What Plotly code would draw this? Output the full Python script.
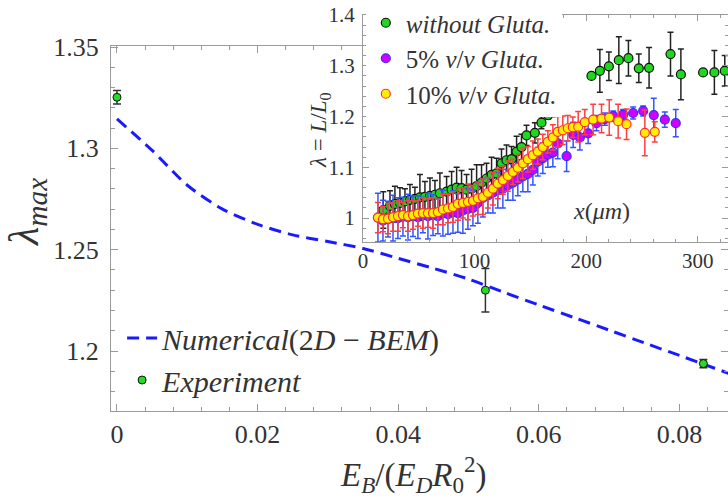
import plotly.graph_objects as go

# ---------------- main chart data ----------------
eb_num = [0.0, 0.005, 0.010, 0.015, 0.020, 0.025, 0.030, 0.035, 0.040, 0.045,
          0.050, 0.055, 0.060, 0.065, 0.070, 0.075, 0.080, 0.085, 0.087]
lam_num = [1.3145, 1.2990, 1.2818, 1.2700, 1.2625, 1.2573, 1.2540, 1.2506, 1.2457, 1.2408,
           1.2355, 1.2290, 1.2227, 1.2165, 1.2103, 1.2040, 1.1978, 1.1915, 1.1890]

eb_exp = [0.0, 0.0524, 0.0834]
lam_exp = [1.3252, 1.2300, 1.1938]
lam_exp_err = [0.0033, 0.0107, 0.002]

# ---------------- inset data ----------------
x_without = [18.2, 24.2, 28.6, 33.1, 37.6, 42.1, 46.5, 51.0, 55.5, 60.0,
             64.5, 68.9, 74.9, 79.4, 83.9, 88.3, 92.8, 97.3, 101.8, 106.2,
             110.7, 115.2, 119.7, 124.1, 128.6, 133.1, 137.6, 142.0, 146.5, 154.0,
             159.9, 165.9, 171.3, 204.7, 212.2, 220.3, 229.2, 237.8, 247.1, 256.3,
             275.5, 284.8, 304.7, 314.8, 324.1]
y_without = [1.016, 1.024, 1.028, 1.030, 1.033, 1.036, 1.038, 1.041, 1.042, 1.044,
             1.046, 1.049, 1.052, 1.056, 1.060, 1.059, 1.056, 1.058, 1.063, 1.070,
             1.078, 1.085, 1.088, 1.108, 1.114, 1.116, 1.131, 1.140, 1.163, 1.168,
             1.188, 1.203, 1.208, 1.280, 1.290, 1.299, 1.311, 1.315, 1.295, 1.296,
             1.323, 1.283, 1.287, 1.287, 1.290]
e_without = [0.036, 0.030, 0.035, 0.030, 0.025, 0.030, 0.023, 0.045, 0.030, 0.035,
             0.028, 0.040, 0.030, 0.036, 0.040, 0.035, 0.030, 0.038, 0.042, 0.035,
             0.030, 0.035, 0.030, 0.028, 0.030, 0.025, 0.030, 0.025, 0.020, 0.020,
             0.012, 0.008, 0.006, 0.004, 0.042, 0.028, 0.046, 0.035, 0.028, 0.040,
             0.043, 0.050, 0.004, 0.043, 0.030]

x_5 = [13.4, 17.9, 22.4, 26.9, 31.3, 35.8, 40.3, 44.8, 49.2, 53.7,
       58.2, 62.7, 67.1, 71.6, 76.1, 80.6, 85.0, 89.5, 94.0, 98.5,
       102.9, 107.4, 111.9, 116.4, 120.8, 125.3, 129.8, 134.3, 138.7, 143.2,
       147.7, 152.2, 156.6, 161.1, 165.6, 170.1, 174.5, 182.4, 188.3, 194.3,
       201.7, 209.2, 216.7, 224.2, 233.1, 242.0, 251.0, 260.5, 270.4, 280.2]
y_5 = [1.001, 0.995, 0.998, 1.000, 1.000, 1.003, 1.002, 1.004, 1.002, 1.006,
       1.004, 1.006, 1.004, 1.010, 1.008, 1.012, 1.010, 1.015, 1.018, 1.020,
       1.030, 1.040, 1.045, 1.050, 1.055, 1.058, 1.065, 1.070, 1.076, 1.082,
       1.087, 1.095, 1.111, 1.118, 1.125, 1.129, 1.147, 1.122, 1.164, 1.159,
       1.167, 1.187, 1.195, 1.201, 1.204, 1.207, 1.211, 1.203, 1.194, 1.187]
e_5 = [0.048, 0.040, 0.035, 0.045, 0.040, 0.038, 0.045, 0.040, 0.042, 0.035,
       0.045, 0.040, 0.035, 0.045, 0.040, 0.042, 0.038, 0.045, 0.040, 0.035,
       0.040, 0.038, 0.035, 0.040, 0.035, 0.038, 0.030, 0.035, 0.032, 0.030,
       0.035, 0.030, 0.028, 0.030, 0.025, 0.028, 0.030, 0.030, 0.025, 0.025,
       0.020, 0.015, 0.012, 0.010, 0.010, 0.012, 0.010, 0.033, 0.015, 0.027]

x_10 = [13.4, 17.9, 22.4, 26.9, 31.3, 35.8, 40.3, 44.8, 49.2, 53.7,
        58.2, 62.7, 67.1, 71.6, 76.1, 80.6, 85.0, 89.5, 94.0, 98.5,
        102.9, 107.4, 111.9, 116.4, 120.8, 125.3, 129.8, 134.3, 138.7, 143.2,
        147.7, 152.2, 156.6, 161.1, 165.6, 170.1, 174.5, 179.0, 183.5, 188.0,
        192.8, 198.7, 206.2, 213.7, 220.6, 228.6, 236.1, 252.5, 261.4]
y_10 = [1.001, 0.998, 0.999, 1.002, 1.004, 1.006, 1.004, 1.006, 1.009, 1.010,
        1.010, 1.010, 1.012, 1.017, 1.019, 1.022, 1.028, 1.030, 1.032, 1.034,
        1.039, 1.042, 1.050, 1.058, 1.068, 1.075, 1.083, 1.091, 1.099, 1.108,
        1.116, 1.124, 1.131, 1.140, 1.150, 1.159, 1.170, 1.173, 1.177, 1.179,
        1.180, 1.189, 1.194, 1.196, 1.198, 1.191, 1.185, 1.168, 1.170]
e_10 = [0.030, 0.025, 0.030, 0.028, 0.030, 0.025, 0.030, 0.028, 0.025, 0.030,
        0.028, 0.030, 0.025, 0.030, 0.028, 0.030, 0.032, 0.030, 0.035, 0.030,
        0.032, 0.035, 0.030, 0.032, 0.030, 0.028, 0.030, 0.025, 0.028, 0.030,
        0.025, 0.028, 0.025, 0.025, 0.022, 0.025, 0.030, 0.028, 0.025, 0.020,
        0.030, 0.025, 0.030, 0.028, 0.035, 0.033, 0.030, 0.045, 0.020]

SERIF = "Liberation Serif"
AX = "#9a9a9a"
TXT = "#333333"

fig = go.Figure()

fig.add_trace(go.Scatter(
    x=eb_num, y=lam_num, mode="lines",
    name="<i>Numerical</i>(2<i>D</i> − <i>BEM</i>)",
    line=dict(color="#1a1aff", width=3, dash="12px,7px", shape="spline", smoothing=0.8),
    legend="legend"))
fig.add_trace(go.Scatter(
    x=eb_exp, y=lam_exp, mode="markers", name="<i>Experiment</i>",
    marker=dict(color="#22dd22", size=8, line=dict(color="#111", width=1)),
    error_y=dict(type="data", array=lam_exp_err, color="#333", thickness=1.5, width=4),
    legend="legend"))

inset_series = [
    (x_without, y_without, e_without, "<i>without Gluta.</i>", "#1ed81e", "#111111", "#222222"),
    (x_5, y_5, e_5, "5% <i>v</i>/<i>v Gluta.</i>", "#d000ff", "#3030ff", "#3355ff"),
    (x_10, y_10, e_10, "10% <i>v</i>/<i>v Gluta.</i>", "#ffee00", "#ff3030", "#ff4040"),
]
for xs, ys, es, nm, fill, edge, ecol in inset_series:
    fig.add_trace(go.Scatter(
        x=xs, y=ys, mode="markers", name=nm, xaxis="x2", yaxis="y2",
        marker=dict(color=fill, size=9, line=dict(color=edge, width=1.2)),
        error_y=dict(type="data", array=es, color=ecol, thickness=1.5, width=3),
        legend="legend2"))

common = dict(showline=True, linecolor=AX, linewidth=1.2, mirror="ticks",
              ticks="inside", tickcolor=AX, tickwidth=1, showgrid=False,
              zeroline=False)

fig.update_layout(
    width=728, height=502,
    margin=dict(l=111, r=0, t=15, b=91),
    paper_bgcolor="white", plot_bgcolor="white",
    font=dict(family=SERIF, color=TXT),
    xaxis=dict(**common, domain=[0, 1], anchor="y", range=[-0.00085, 0.0869],
               tick0=0, dtick=0.02, ticklen=7,
               tickfont=dict(family=SERIF, size=26, color=TXT),
               minor=dict(ticks="inside", dtick=0.004, ticklen=4, tickcolor=AX)),
    yaxis=dict(**common, domain=[0, 0.9217], anchor="x", range=[1.1704, 1.3505],
               tick0=1.2, dtick=0.05, ticklen=7, ticklabelstandoff=6,
               tickfont=dict(family=SERIF, size=26, color=TXT),
               minor=dict(ticks="inside", dtick=0.01, ticklen=4, tickcolor=AX)),
    xaxis2=dict(**common, domain=[0.4084, 1], anchor="y2", range=[0, 327],
                tick0=0, dtick=100, ticklen=6,
                tickfont=dict(family=SERIF, size=21, color=TXT),
                minor=dict(ticks="inside", dtick=20, ticklen=3, tickcolor=AX)),
    yaxis2=dict(**common, domain=[0.4268, 1], anchor="x2", range=[0.953, 1.4],
                tick0=1.0, dtick=0.1, ticklen=6, ticklabelstandoff=3,
                tickfont=dict(family=SERIF, size=21, color=TXT),
                minor=dict(ticks="inside", dtick=0.02, ticklen=3, tickcolor=AX)),
    legend=dict(x=0.018, y=0.25, xanchor="left", yanchor="top",
                bgcolor="rgba(255,255,255,0)", font=dict(family=SERIF, size=30, color=TXT),
                tracegroupgap=0),
    legend2=dict(x=0.413, y=1.038, xanchor="left", yanchor="top",
                 bgcolor="white", font=dict(family=SERIF, size=25, color=TXT),
                 tracegroupgap=0),
    showlegend=True,
)

fig.add_annotation(text="<i>λ</i><sub><i>max</i></sub>", xref="paper", yref="paper",
                   x=-0.135, y=0.502, xanchor="center", yanchor="middle",
                   textangle=-90, showarrow=False,
                   font=dict(family=SERIF, size=42, color=TXT))
fig.add_annotation(text="<i>E</i><sub><i>B</i></sub>/(<i>E</i><sub><i>D</i></sub><i>R</i><sub>0</sub><sup>2</sup>)",
                   xref="paper", yref="paper", x=0.49, y=-0.16,
                   xanchor="center", yanchor="middle", showarrow=False,
                   font=dict(family=SERIF, size=33, color=TXT))
fig.add_annotation(text="<i>λ</i> = <i>L</i>/<i>L</i><sub>0</sub>", xref="paper", yref="paper",
                   x=0.3387, y=0.7096, xanchor="center", yanchor="middle",
                   textangle=-90, showarrow=False,
                   font=dict(family=SERIF, size=23, color=TXT))
fig.add_annotation(text="<i>x</i>(<i>μm</i>)", xref="x2", yref="y2",
                   x=214, y=1.014, xanchor="center", yanchor="middle", showarrow=False,
                   font=dict(family=SERIF, size=24, color=TXT))

fig.write_html("out.html")
